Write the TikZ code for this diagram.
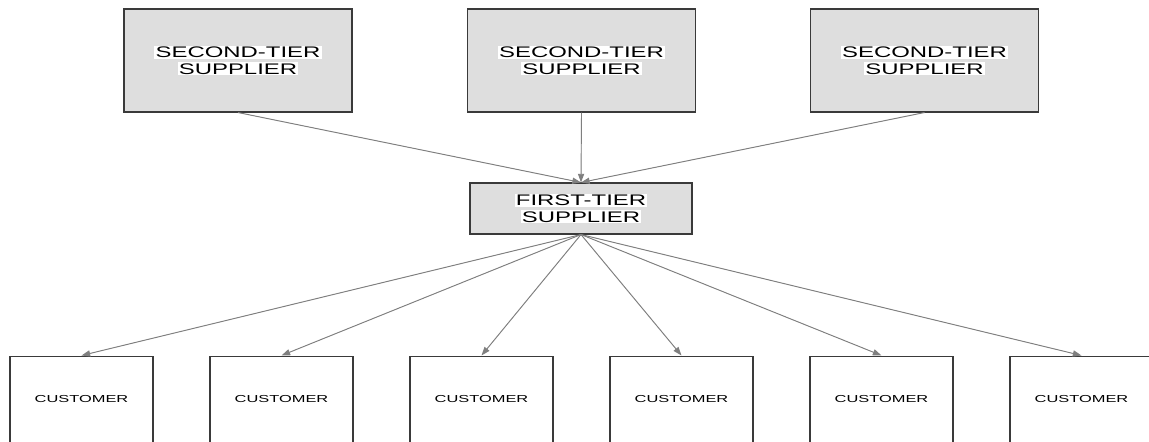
\documentclass[tikz,border=0pt]{standalone}
\usepackage{fontspec}
\setmainfont{Liberation Sans}
\usetikzlibrary{arrows.meta}
\definecolor{boxfill}{HTML}{DEDEDE}
\definecolor{boxline}{HTML}{3A3A3A}
\definecolor{linkgray}{HTML}{7F7F7F}
% wide label line on a white band
\newcommand\bandline[1]{{\setlength\fboxsep{0.9pt}\colorbox{white}{\scalebox{1.56}[1]{#1}}}}
% wide label line without band
\newcommand\wideline[1]{\scalebox{1.62}[1]{#1}}
\begin{document}
\begin{tikzpicture}[x=0.75pt,y=-0.75pt,
  supplier/.style={draw=boxline, fill=boxfill, line width=0.8pt, inner sep=0pt,
    align=center, font=\fontsize{11.5}{12.4}\selectfont},
  tierone/.style={supplier, minimum width=166.5pt, minimum height=38.25pt},
  tiertwo/.style={supplier, minimum width=171pt, minimum height=77.25pt},
  customer/.style={draw=boxline, fill=white, line width=0.8pt, inner sep=0pt,
    anchor=north, minimum width=107.25pt, text height=34.5pt, text depth=60pt,
    font=\fontsize{7.6}{9}\selectfont},
  link/.style={draw=linkgray, line width=0.7pt,
    -{Triangle[length=6.5pt,width=4.6pt]}, fill=linkgray}]
\clip (0,0) rectangle (1149,442);
\fill[white] (0,0) rectangle (1149,442);

% second-tier suppliers
\node[tiertwo] (s1) at (238,60.5) {\bandline{SECOND-TIER}\\\bandline{SUPPLIER}};
\node[tiertwo] (s2) at (581.5,60.5) {\bandline{SECOND-TIER}\\\bandline{SUPPLIER}};
\node[tiertwo] (s3) at (924.5,60.5) {\bandline{SECOND-TIER}\\\bandline{SUPPLIER}};

% first-tier supplier
\node[tierone] (f) at (581,208.5) {\bandline{FIRST-TIER}\\\bandline{SUPPLIER}};

% customers
\foreach \i/\x in {1/81.5,2/281.5,3/481.5,4/681.5,5/881.5,6/1081.5}
  \node[customer] (c\i) at (\x,355.5) {\wideline{CUSTOMER}};

% supply links
\foreach \s in {s1,s2,s3}
  \path[link] (\s.south) -- (f.north);
\foreach \i in {1,...,6}
  \path[link] (f.south) -- (c\i.north);
\end{tikzpicture}
\end{document}
